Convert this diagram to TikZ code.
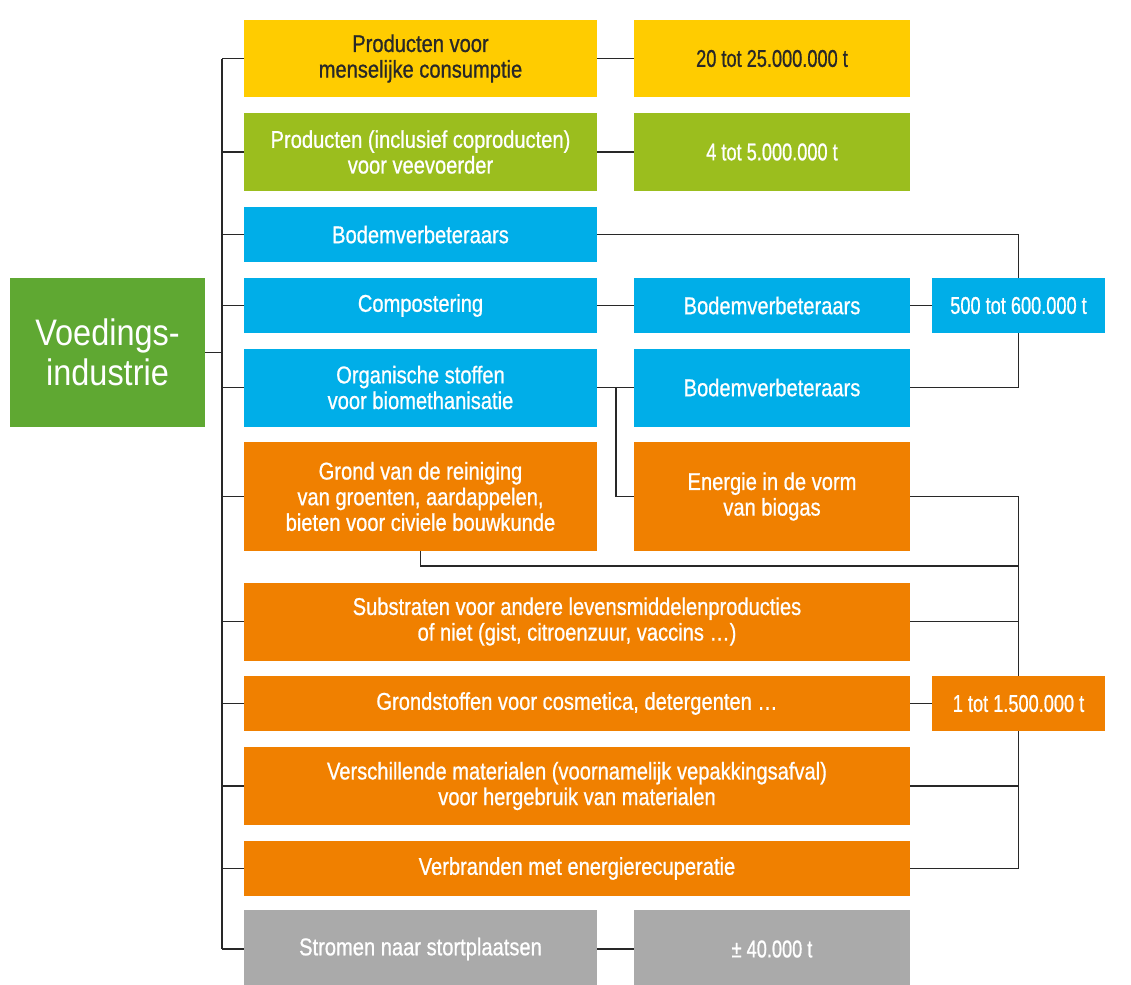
\documentclass[tikz,border=0pt]{standalone}
\usepackage{fontspec}
\setmainfont{Liberation Sans}
\newfontfamily\cnfont{Liberation Sans}[FakeStretch=0.83, FakeBold=0.8]
\newfontfamily\numfont{Liberation Sans}[FakeStretch=0.75, FakeBold=0.8]
\newfontfamily\titlefont{Liberation Sans}[FakeStretch=0.88]
\usetikzlibrary{positioning, calc}
\definecolor{mydark}{RGB}{40,40,40}
\definecolor{mygreen}{RGB}{95,168,50}
\definecolor{myyellow}{RGB}{255,204,0}
\definecolor{mylime}{RGB}{155,190,30}
\definecolor{myblue}{RGB}{0,174,232}
\definecolor{myorange}{RGB}{240,128,0}
\definecolor{mygray}{RGB}{170,170,170}
\tikzset{
  box/.style={rectangle, inner sep=2pt, align=center, text=white,
    font=\cnfont\fontsize{13.8}{14.6}\selectfont},
  qty/.style={font=\numfont\fontsize{13.8}{14.6}\selectfont},
  colone/.style={box, minimum width=7.06cm},
  coltwo/.style={box, minimum width=5.52cm},
  colthree/.style={box, qty, minimum width=3.46cm},
  widebox/.style={box, minimum width=13.32cm},
  hlow/.style={minimum height=1.1cm},
  hmid/.style={minimum height=1.56cm},
  htall/.style={minimum height=2.18cm},
  line/.style={line width=0.7pt, color=mydark}
}

\begin{document}
\begin{tikzpicture}[x=0.02cm, y=-0.02cm]
  \useasboundingbox (0,0) rectangle (1131,984);

  % Source
  \node[box, fill=mygreen, minimum width=3.9cm, minimum height=2.98cm,
    font=\titlefont\fontsize{21}{22.5}\selectfont] (food) at (107.5,352.5)
    {Voedings-\\industrie};

  % First column
  \node[colone, hmid, fill=myyellow, text=mydark] (human) at (420.5,58.5)
    {Producten voor\\menselijke consumptie};
  \node[colone, hmid, fill=mylime] (feed) at (420.5,152)
    {Producten (inclusief coproducten)\\voor veevoerder};
  \node[colone, hlow, fill=myblue] (soilA) at (420.5,234.5) {Bodemverbeteraars};
  \node[colone, hlow, fill=myblue] (compost) at (420.5,305.5) {Compostering};
  \node[colone, hmid, fill=myblue] (organic) at (420.5,387.5)
    {Organische stoffen\\voor biomethanisatie};
  \node[colone, htall, fill=myorange] (ground) at (420.5,496.5)
    {Grond van de reiniging\\van groenten, aardappelen,\\bieten voor civiele bouwkunde};
  \node[widebox, hmid, fill=myorange] (substr) at (577,621.5)
    {Substraten voor andere levensmiddelenproducties\\of niet (gist, citroenzuur, vaccins …)};
  \node[widebox, hlow, fill=myorange] (raw) at (577,703.5)
    {Grondstoffen voor cosmetica, detergenten …};
  \node[widebox, hmid, fill=myorange] (mater) at (577,786)
    {Verschillende materialen (voornamelijk vepakkingsafval)\\voor hergebruik van materialen};
  \node[widebox, hlow, fill=myorange] (burn) at (577,868.5)
    {Verbranden met energierecuperatie};
  \node[colone, hmid, fill=mygray] (landfill) at (420.5,949)
    {Stromen naar stortplaatsen};

  % Second column
  \node[coltwo, qty, hmid, fill=myyellow, text=mydark] (qhuman) at (772,58.5)
    {20 tot 25.000.000 t};
  \node[coltwo, qty, hmid, fill=mylime] (qfeed) at (772,152) {4 tot 5.000.000 t};
  \node[coltwo, hlow, fill=myblue] (soilB) at (772,305.5) {Bodemverbeteraars};
  \node[coltwo, hmid, fill=myblue] (soilC) at (772,387.5) {Bodemverbeteraars};
  \node[coltwo, htall, fill=myorange] (biogas) at (772,496.5)
    {Energie in de vorm\\van biogas};
  \node[coltwo, qty, hmid, fill=mygray] (qfill) at (772,949) {± 40.000 t};

  % Third column
  \node[colthree, hlow, fill=myblue] (qsoil) at (1018.5,305.5) {500 tot 600.000 t};
  \node[colthree, hlow, fill=myorange] (qrest) at (1018.5,703.5) {1 tot 1.500.000 t};

  % Left bus
  \coordinate (busT) at (222,58.5);
  \coordinate (busB) at (222,949);
  \draw[line] (busT) -- (busB);
  \draw[line] (food.east) -- (food.east -| busT);
  \foreach \n in {human, feed, soilA, compost, organic, ground, substr, raw, mater, burn, landfill}
    \draw[line] (\n.west) -- (\n.west -| busT);

  % Direct links
  \draw[line] (human.east) -- (qhuman.west);
  \draw[line] (feed.east) -- (qfeed.west);
  \draw[line] (compost.east) -- (soilB.west);
  \draw[line] (soilB.east) -- (qsoil.west);
  \draw[line] (landfill.east) -- (qfill.west);
  \draw[line] (raw.east) -- (qrest.west);

  % Biomethanisation split
  \coordinate (split) at (616,387.5);
  \draw[line] (organic.east) -- (soilC.west);
  \draw[line] (split) |- (biogas.west);

  % Soil improvers collector
  \draw[line] (soilA.east) -| (qsoil.north);
  \draw[line] (soilC.east) -| (qsoil.south);

  % Rest collector
  \coordinate (gturn) at (420.5,566);
  \draw[line] (biogas.east) -| (qrest.north);
  \draw[line] (ground.south) |- (gturn -| qrest);
  \draw[line] (substr.east) -- (substr.east -| qrest);
  \draw[line] (mater.east) -- (mater.east -| qrest);
  \draw[line] (burn.east) -| (qrest.south);
\end{tikzpicture}
\end{document}
